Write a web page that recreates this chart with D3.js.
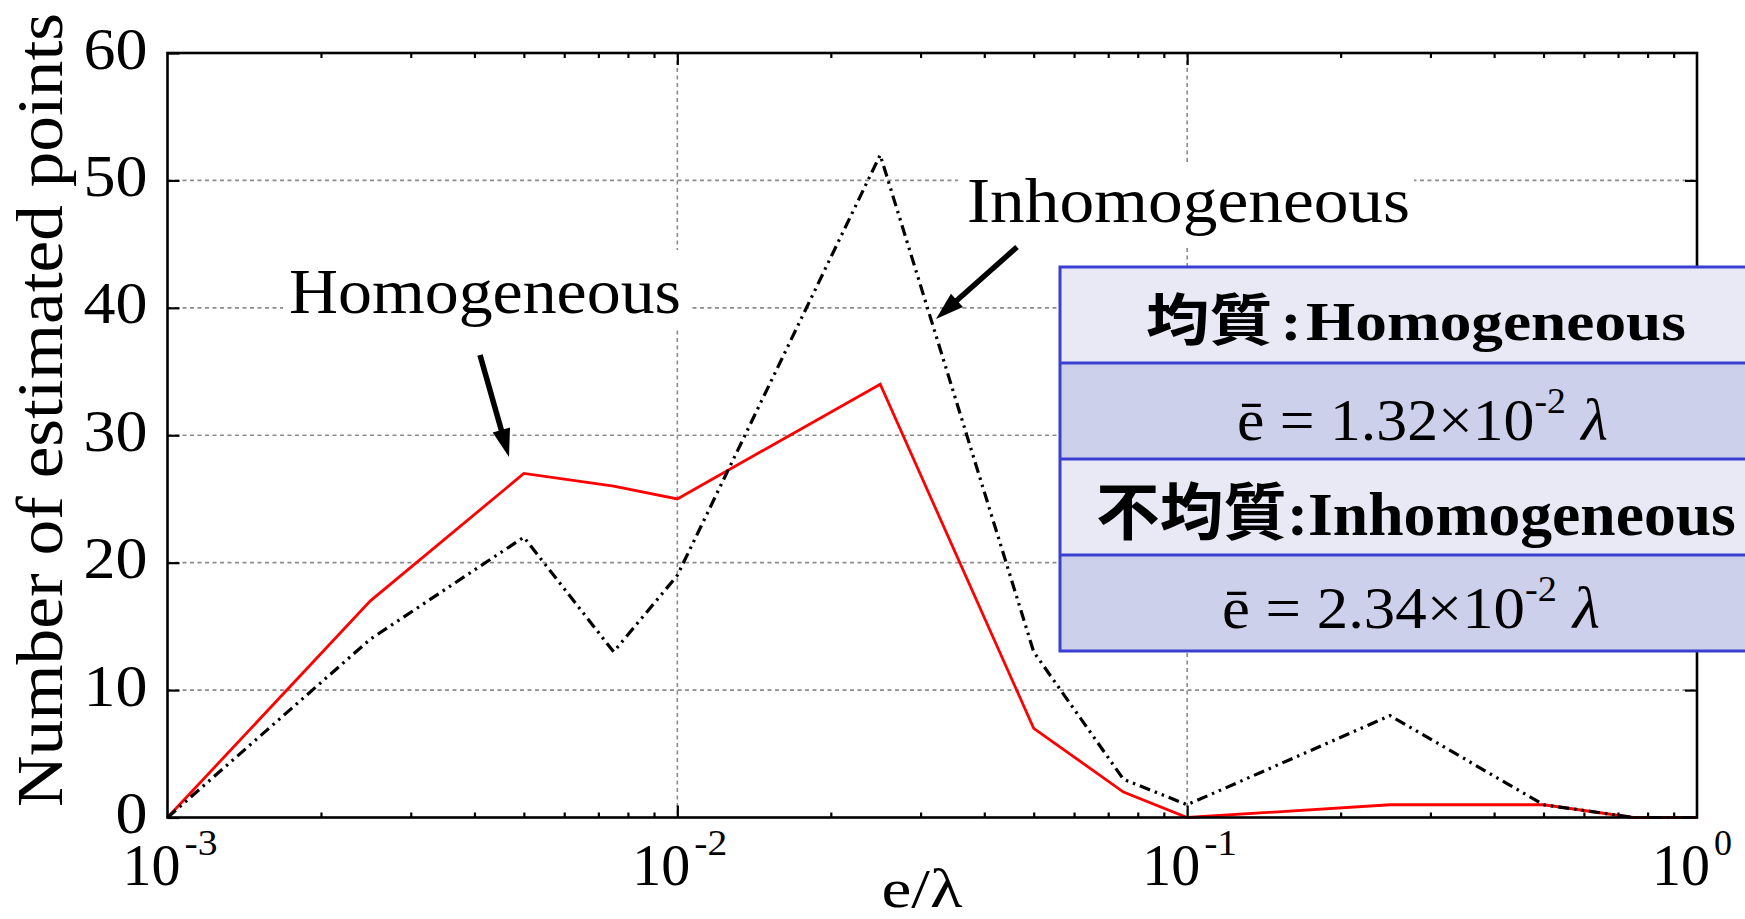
<!DOCTYPE html>
<html>
<head>
<meta charset="utf-8">
<script src="https://cdn.jsdelivr.net/npm/d3@7"></script>
<style>
  html, body { margin: 0; padding: 0; background: #fff; overflow: hidden; }
  svg { display: block; }
</style>
</head>
<body>
<svg id="chart" width="1745" height="919"></svg>
<script>
// Error ratio e/λ at which the estimated points were counted
const xValues = [0.001, 0.0025, 0.005, 0.0075, 0.01, 0.025, 0.05, 0.075, 0.1, 0.25, 0.5, 0.75, 1];
// Number of estimated points per bin
const homogeneous   = [0, 17, 27, 26, 25, 34, 7, 2, 0, 1, 1, 0, 0];
const inhomogeneous = [0, 14, 22, 13, 19, 52, 13, 3, 1, 8, 1, 0, 0];

// Axis ticks
const yTicks = [0, 10, 20, 30, 40, 50, 60];
const yGrid = [10, 20, 30, 40, 50];
const xTickExponents = [-3, -2, -1, 0];
const xGrid = [0.01, 0.1];

// Series labels and the summary table
const seriesNames = ["Homogeneous", "Inhomogeneous"];
const seriesNamesJa = ["均質", "不均質"];
const meanErrors = ["1.32", "2.34"];   // mean error, in units of 10^-2 λ

const W = 1745, H = 919;
const plot = { left: 167.5, right: 1697, top: 53, bottom: 817.5 };
const serif = "'Liberation Serif','Tinos','DejaVu Serif',serif";
const cjk = "'Noto Sans CJK JP','Noto Sans CJK SC',sans-serif";

const x = d3.scaleLog().domain([1e-3, 1]).range([plot.left, plot.right]);
const y = d3.scaleLinear().domain([0, 60]).range([plot.bottom, plot.top]);

const svg = d3.select("#chart");

// ---- grid ----
const grid = svg.append("g")
  .attr("stroke", "#8c8c8c").attr("stroke-width", 1.6).attr("stroke-dasharray", "4,3.5");
grid.selectAll("line.h").data(yGrid).join("line").attr("class", "h")
  .attr("x1", plot.left).attr("x2", plot.right)
  .attr("y1", d => y(d)).attr("y2", d => y(d));
grid.selectAll("line.v").data(xGrid).join("line").attr("class", "v")
  .attr("x1", d => x(d)).attr("x2", d => x(d))
  .attr("y1", plot.top).attr("y2", plot.bottom);

// ---- in-plot series labels on white backing ----
const labelLayout = [
  { box: [283, 250, 690, 327], x0: 289, x1: 681, base: 313 },
  { box: [958, 162, 1414, 248], x0: 967, x1: 1410, base: 222 }
];
labelLayout.forEach((L, i) => {
  svg.append("rect")
    .attr("x", L.box[0]).attr("y", L.box[1])
    .attr("width", L.box[2] - L.box[0]).attr("height", L.box[3] - L.box[1])
    .attr("fill", "#fff");
  svg.append("text")
    .attr("x", L.x0).attr("y", L.base)
    .attr("font-family", serif).attr("font-size", 64).attr("fill", "#000")
    .attr("textLength", L.x1 - L.x0).attr("lengthAdjust", "spacingAndGlyphs")
    .text(seriesNames[i]);
});

// ---- data lines ----
const line = d3.line()
  .x((d, i) => x(xValues[i]))
  .y(d => y(d));

svg.append("path").datum(homogeneous)
  .attr("d", line).attr("fill", "none")
  .attr("stroke", "#ff0000").attr("stroke-width", 2.8);

svg.append("path").datum(inhomogeneous)
  .attr("d", line).attr("fill", "none")
  .attr("stroke", "#000").attr("stroke-width", 3.2)
  .attr("stroke-dasharray", "11,5,2.5,5,2.5,5");

// ---- frame ----
svg.append("rect")
  .attr("x", plot.left).attr("y", plot.top)
  .attr("width", plot.right - plot.left).attr("height", plot.bottom - plot.top)
  .attr("fill", "none").attr("stroke", "#000").attr("stroke-width", 2.6);

// ---- axes (inward ticks) ----
function styleAxis(g) {
  g.select(".domain").remove();
  g.selectAll(".tick line").attr("stroke", "#000").attr("stroke-width", 2.2);
}
const minorX = x.ticks().filter(v => Math.abs(Math.log10(v) - Math.round(Math.log10(v))) > 1e-6);
const majorX = [0.01, 0.1];

svg.append("g").attr("transform", `translate(0,${plot.bottom})`)
  .call(d3.axisBottom(x).tickValues(majorX).tickSize(-12).tickFormat("")).call(styleAxis);
svg.append("g").attr("transform", `translate(0,${plot.bottom})`)
  .call(d3.axisBottom(x).tickValues(minorX).tickSize(-5).tickFormat("")).call(styleAxis);
svg.append("g").attr("transform", `translate(0,${plot.top})`)
  .call(d3.axisTop(x).tickValues(majorX).tickSize(-12).tickFormat("")).call(styleAxis);
svg.append("g").attr("transform", `translate(0,${plot.top})`)
  .call(d3.axisTop(x).tickValues(minorX).tickSize(-5).tickFormat("")).call(styleAxis);

const gy = svg.append("g").attr("transform", `translate(${plot.left},0)`)
  .call(d3.axisLeft(y).tickValues(yTicks).tickSize(-12).tickPadding(20).tickFormat(d3.format("d")))
  .call(styleAxis);
gy.selectAll(".tick text")
  .attr("font-family", serif).attr("font-size", 60).attr("fill", "#000").attr("dy", "0.25em")
  .attr("textLength", d => String(d).length * 32).attr("lengthAdjust", "spacingAndGlyphs");

svg.append("g").attr("transform", `translate(${plot.right},0)`)
  .call(d3.axisRight(y).tickValues(yGrid).tickSize(-12).tickFormat(""))
  .call(styleAxis);

// x tick labels: 10^k, mantissa ends just right of the tick, exponent raised
const xl = svg.append("g").attr("font-family", serif).attr("fill", "#000");
const xlab = xl.selectAll("g").data(xTickExponents).join("g")
  .attr("transform", d => `translate(${x(Math.pow(10, d))},0)`);
xlab.append("text")
  .attr("x", 13).attr("y", 885).attr("text-anchor", "end")
  .attr("font-size", 60)
  .attr("textLength", 58).attr("lengthAdjust", "spacingAndGlyphs")
  .text("10");
xlab.append("text")
  .attr("x", 17).attr("y", 855)
  .attr("font-size", 35)
  .attr("textLength", d => d === 0 ? 18 : 33).attr("lengthAdjust", "spacingAndGlyphs")
  .text(d => String(d));

// axis titles
svg.append("text")
  .attr("transform", "translate(62,410) rotate(-90)")
  .attr("text-anchor", "middle")
  .attr("font-family", serif).attr("font-size", 66).attr("fill", "#000")
  .attr("textLength", 794).attr("lengthAdjust", "spacingAndGlyphs")
  .text("Number of estimated points");

svg.append("text")
  .attr("x", 922).attr("y", 907)
  .attr("text-anchor", "middle")
  .attr("font-family", serif).attr("font-size", 54).attr("fill", "#000")
  .attr("textLength", 81).attr("lengthAdjust", "spacingAndGlyphs")
  .text("e/λ");

// ---- arrows ----
function arrow(x0, y0, x1, y1) {
  const len = 28, half = 9;
  const a = Math.atan2(y1 - y0, x1 - x0);
  const c = Math.cos(a), s = Math.sin(a);
  const bx = x1 - len * c, by = y1 - len * s;
  svg.append("line")
    .attr("x1", x0).attr("y1", y0).attr("x2", bx + 4 * c).attr("y2", by + 4 * s)
    .attr("stroke", "#000").attr("stroke-width", 5.5);
  svg.append("polygon")
    .attr("points", [[x1, y1], [bx + half * s, by - half * c], [bx - half * s, by + half * c]].map(p => p.join(",")).join(" "))
    .attr("fill", "#000");
}
arrow(480, 355, 509, 457);
arrow(1017, 247, 936, 319);

// ---- summary table ----
const table = { x: 1060, top: 267, rowH: 96, width: 720 };
const rowFill = ["#e9e9f6", "#cdd0eb", "#e9e9f6", "#cdd0eb"];
const tb = svg.append("g");
tb.selectAll("rect.row").data(rowFill).join("rect").attr("class", "row")
  .attr("x", table.x).attr("y", (d, i) => table.top + i * table.rowH)
  .attr("width", table.width).attr("height", table.rowH)
  .attr("fill", d => d);
tb.append("rect")
  .attr("x", table.x).attr("y", table.top)
  .attr("width", table.width).attr("height", table.rowH * 4)
  .attr("fill", "none").attr("stroke", "#3b3ed2").attr("stroke-width", 3);
tb.selectAll("line.sep").data([1, 2, 3]).join("line").attr("class", "sep")
  .attr("x1", table.x).attr("x2", table.x + table.width)
  .attr("y1", d => table.top + d * table.rowH).attr("y2", d => table.top + d * table.rowH)
  .attr("stroke", "#3b3ed2").attr("stroke-width", 3);

// place a text group so that it spans [x0, x1] with the given baseline
function fitText(parts, size, x0, x1, base) {
  const g = tb.append("g");
  const t = g.append("text").attr("x", 0).attr("y", 0).attr("fill", "#000").attr("font-size", size);
  parts.forEach(p => {
    const ts = t.append("tspan").text(p.t)
      .attr("font-family", p.f || serif)
      .attr("font-weight", p.w || "normal");
    if (p.size) ts.attr("font-size", p.size);
    if (p.dx) ts.attr("dx", p.dx);
    if (p.dy) ts.attr("dy", p.dy);
    if (p.italic) ts.attr("font-style", "italic");
  });
  const bb = t.node().getBBox();
  const k = (x1 - x0) / bb.width;
  g.attr("transform", `translate(${x0 - bb.x * k},${base}) scale(${k},1)`);
}

function titleParts(i) {
  return [
    { t: seriesNamesJa[i], f: cjk, w: 700 },
    { t: ":", w: "bold", dx: i === 0 ? 7 : 0 },
    { t: seriesNames[i], w: "bold", dx: i === 0 ? 4 : 0 }
  ];
}
function meanParts(i) {
  return [
    { t: "ē = " + meanErrors[i] + "×10" },
    { t: "-2", size: 36, dy: -27 },
    { t: " λ", dy: 27, italic: true }
  ];
}

fitText(titleParts(0), 56, 1146, 1686, 340);
fitText(meanParts(0), 59, 1237, 1608, 440);
fitText(titleParts(1), 62, 1096, 1736, 535);
fitText(meanParts(1), 59, 1222, 1600, 628);
</script>
</body>
</html>
